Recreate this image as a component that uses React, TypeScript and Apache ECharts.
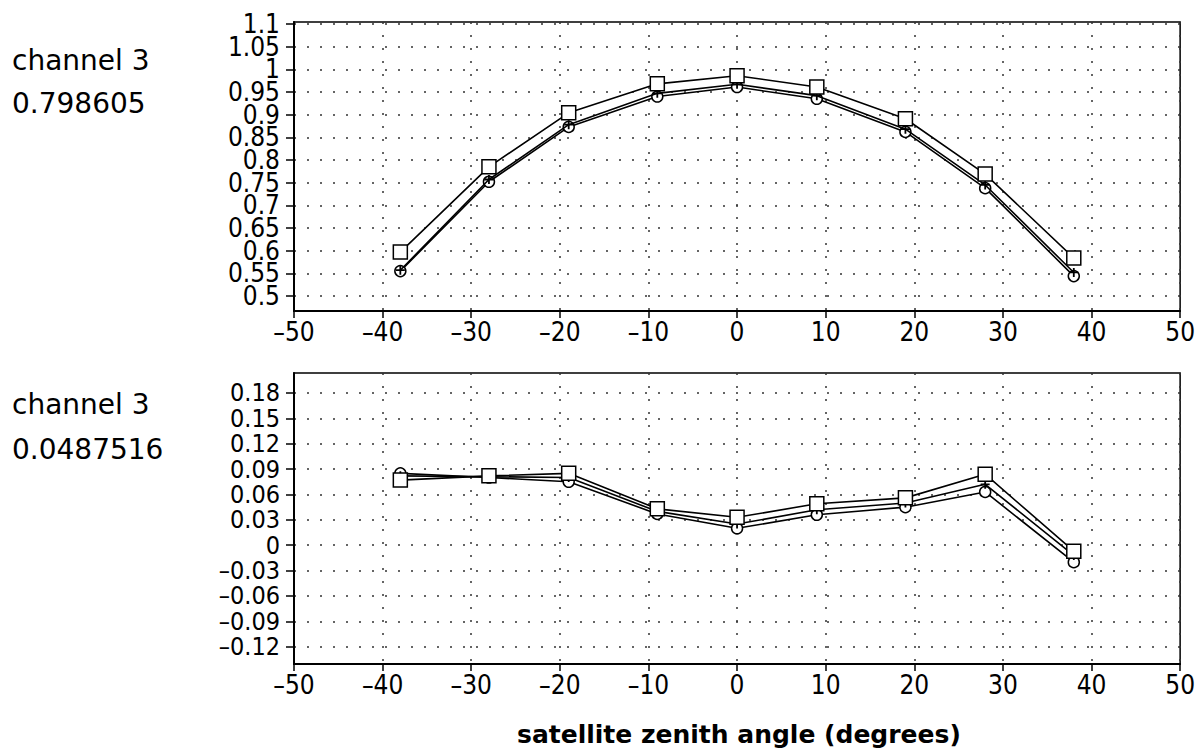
import React, { useEffect, useRef } from "react";
import * as echarts from "echarts";

const angles = [-38, -28, -19, -9, 0, 9, 19, 28, 38];

const topSquare = [0.597, 0.785, 0.904, 0.968, 0.986, 0.961, 0.891, 0.769, 0.584];
const topCircle = [0.555, 0.752, 0.873, 0.94, 0.961, 0.935, 0.862, 0.738, 0.544];
const topPlus = [0.557, 0.757, 0.878, 0.947, 0.967, 0.942, 0.868, 0.745, 0.552];

const botSquare = [0.077, 0.082, 0.085, 0.043, 0.033, 0.049, 0.056, 0.084, -0.007];
const botCircle = [0.085, 0.08, 0.075, 0.037, 0.02, 0.036, 0.045, 0.063, -0.02];
const botPlus = [0.082, 0.081, 0.08, 0.04, 0.025, 0.042, 0.05, 0.072, -0.012];

const topTicks = [0.5, 0.55, 0.6, 0.65, 0.7, 0.75, 0.8, 0.85, 0.9, 0.95, 1, 1.05, 1.1];
const botTicks = [-0.12, -0.09, -0.06, -0.03, 0, 0.03, 0.06, 0.09, 0.12, 0.15, 0.18];

const topLabels = ["channel 3", "0.798605"];
const botLabels = ["channel 3", "0.0487516"];
const xTitle = "satellite zenith angle (degrees)";

const PLUS = "path://M4,0 L6,0 L6,4 L10,4 L10,6 L6,6 L6,10 L4,10 L4,6 L0,6 L0,4 L4,4 Z";

const fmt = (v: number) => {
  const s = String(Math.round(v * 1000) / 1000);
  return v < 0 ? "\u2013" + s.slice(1) : s;
};

const AXIS_FONT = "'DejaVu Sans Condensed', 'DejaVu Sans', sans-serif";
const TEXT_FONT = "'DejaVu Sans', sans-serif";

const TOP_MIN = 0.467;
const TOP_MAX = 1.1044;
const BOT_MIN = -0.1404;
const BOT_MAX = 0.2036;

function xAxis(gridIndex: number) {
  return {
    type: "value",
    gridIndex,
    min: -50,
    max: 50,
    interval: 10,
    axisLine: { show: true, onZero: false, lineStyle: { color: "#000", width: 2 } },
    axisTick: { show: true, length: 7, lineStyle: { color: "#000", width: 1.5 } },
    axisLabel: {
      color: "#000",
      fontFamily: AXIS_FONT,
      fontSize: 26,
      margin: 8,
      showMinLabel: true,
      showMaxLabel: true,
      formatter: (v: number) => fmt(v),
    },
    splitLine: {
      show: true,
      lineStyle: { color: "#333", width: 1.5, type: [2, 11] },
    },
  };
}

function yAxis(gridIndex: number, min: number, max: number, ticks: number[], labels: number[], fs: number) {
  return {
    type: "value",
    gridIndex,
    min,
    max,
    axisLine: { show: true, onZero: false, lineStyle: { color: "#000", width: 2 } },
    axisTick: {
      show: true,
      length: 8,
      customValues: ticks,
      lineStyle: { color: "#000", width: 1.5 },
    },
    axisLabel: {
      color: "#000",
      fontFamily: AXIS_FONT,
      fontSize: fs,
      margin: 14,
      customValues: labels,
      showMinLabel: true,
      showMaxLabel: true,
      formatter: (v: number) => fmt(v),
    },
    splitLine: {
      show: true,
      lineStyle: { color: "#333", width: 1.5, type: [2, 11] },
    },
  };
}

function labelOnlyAxis(gridIndex: number, min: number, max: number, labels: number[], fs: number) {
  return {
    type: "value",
    gridIndex,
    position: "left",
    min,
    max,
    axisLine: { show: false },
    axisTick: { show: false, customValues: labels },
    splitLine: { show: false },
    axisLabel: {
      color: "#000",
      fontFamily: AXIS_FONT,
      fontSize: fs,
      margin: 14,
      customValues: labels,
      showMinLabel: true,
      showMaxLabel: true,
      formatter: (v: number) => fmt(v),
    },
  };
}

function lineSeries(idx: number, ys: number[], symbol: string, size: number, filled: boolean, z: number) {
  return {
    type: "line",
    xAxisIndex: idx,
    yAxisIndex: idx,
    data: angles.map((a, i) => [a, ys[i]]),
    symbol,
    symbolSize: size,
    showSymbol: true,
    z,
    lineStyle: { color: "#000", width: 1.6 },
    itemStyle: {
      color: filled ? "#000" : "#fff",
      borderColor: "#000",
      borderWidth: filled ? 0 : 1.5,
    },
    emphasis: { disabled: true },
  };
}

export default function App() {
  const ref = useRef<HTMLDivElement>(null);
  useEffect(() => {
    if (!ref.current) return;
    const chart = echarts.init(ref.current, undefined, { renderer: "svg" });
    const topEven = topTicks.filter((_, i) => i % 2 === 0);
    const topOdd = topTicks.filter((_, i) => i % 2 === 1);
    const botEven = botTicks.filter((_, i) => i % 2 === 0);
    const botOdd = botTicks.filter((_, i) => i % 2 === 1);
    chart.setOption({
      animation: false,
      backgroundColor: "#fff",
      grid: [
        { left: 294, right: 14, top: 22, height: 289, show: true, borderColor: "#000", borderWidth: 1.5 },
        { left: 294, right: 14, top: 373, height: 291, show: true, borderColor: "#000", borderWidth: 1.5 },
      ],
      xAxis: [xAxis(0), xAxis(1)],
      yAxis: [
        yAxis(0, TOP_MIN, TOP_MAX, topTicks, topEven, 26),
        yAxis(1, BOT_MIN, BOT_MAX, botTicks, botEven, 25),
        labelOnlyAxis(0, TOP_MIN, TOP_MAX, topOdd, 26),
        labelOnlyAxis(1, BOT_MIN, BOT_MAX, botOdd, 25),
      ],
      series: [
        lineSeries(0, topCircle, "circle", 11, false, 2),
        lineSeries(0, topPlus, PLUS, 9, true, 3),
        lineSeries(0, topSquare, "rect", 14, false, 4),
        lineSeries(1, botCircle, "circle", 11, false, 2),
        lineSeries(1, botPlus, PLUS, 9, true, 3),
        lineSeries(1, botSquare, "rect", 14, false, 4),
      ],
      graphic: [
        { type: "text", left: 12, top: 46, style: { text: topLabels[0], fill: "#000", font: `28px ${TEXT_FONT}` } },
        { type: "text", left: 12, top: 89, style: { text: topLabels[1], fill: "#000", font: `28px ${TEXT_FONT}` } },
        { type: "text", left: 12, top: 390, style: { text: botLabels[0], fill: "#000", font: `28px ${TEXT_FONT}` } },
        { type: "text", left: 12, top: 435, style: { text: botLabels[1], fill: "#000", font: `28px ${TEXT_FONT}` } },
        { type: "text", left: 517, top: 722, style: { text: xTitle, fill: "#000", font: `bold 25px ${TEXT_FONT}` } },
      ],
    });
    return () => chart.dispose();
  }, []);
  return (
    <div
      ref={ref}
      style={{ position: "fixed", left: 0, top: 0, width: 1198, height: 751 }}
    />
  );
}
